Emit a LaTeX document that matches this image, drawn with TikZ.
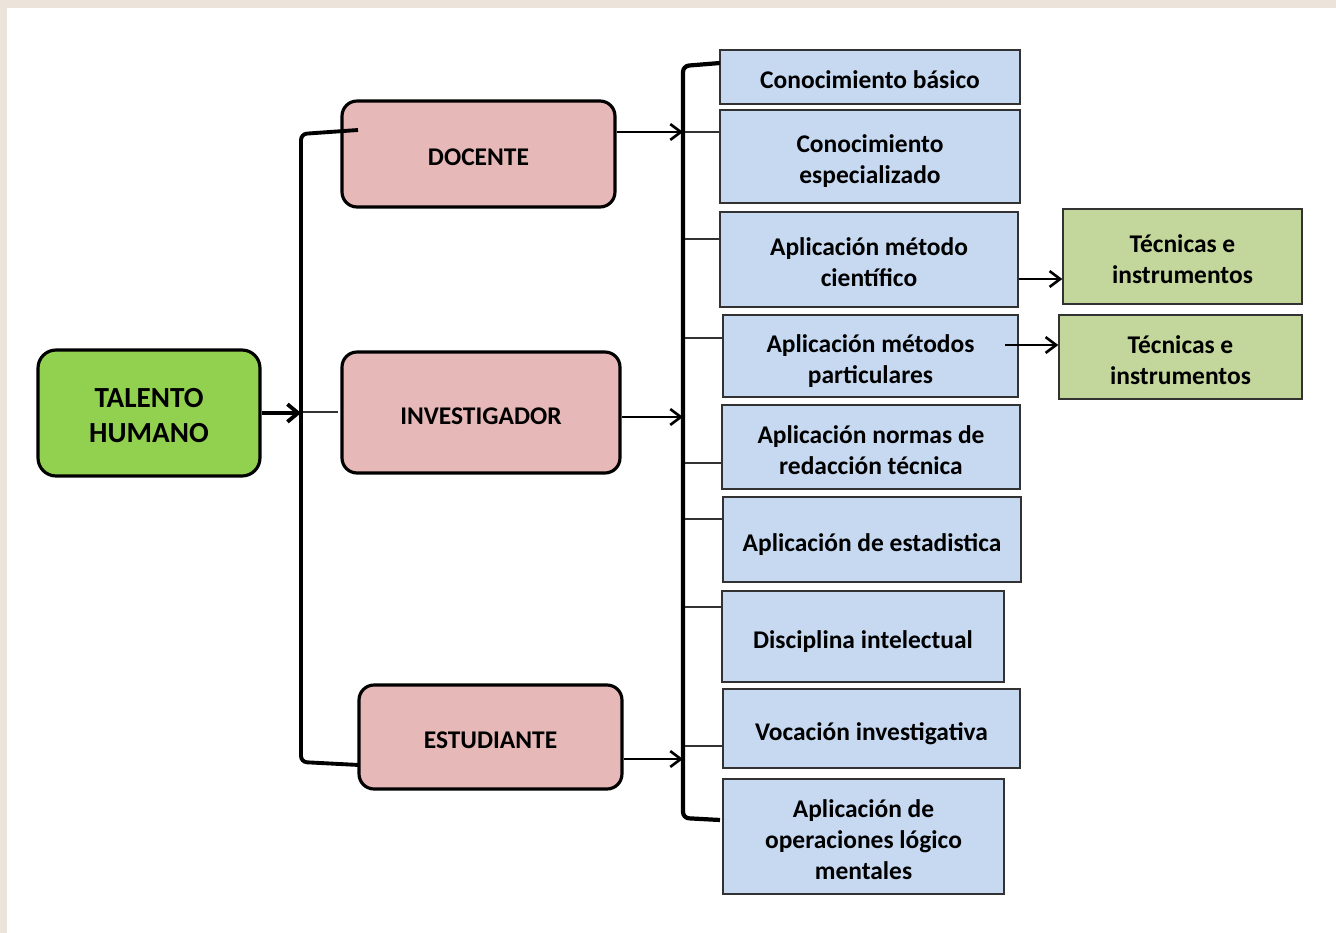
\documentclass[tikz,border=0pt]{standalone}
\usepackage{fontspec}
\setmainfont{Carlito}
\usetikzlibrary{arrows.meta}

\definecolor{fondo}{RGB}{236,228,218}
\definecolor{verde}{RGB}{146,208,80}
\definecolor{rosa}{RGB}{230,184,183}
\definecolor{azul}{RGB}{198,217,241}
\definecolor{oliva}{RGB}{195,214,155}
\definecolor{borde}{RGB}{50,50,50}

% struts so the lines sit like in a word processor text box
\newcommand{\arriba}{\rule{0pt}{17.2pt}}
\newcommand{\abajo}{\rule[-3.6pt]{0pt}{3.6pt}}

\begin{document}
\begin{tikzpicture}[x=0.02cm, y=-0.02cm,
    texto/.style={inner sep=0pt, align=flush center, execute at begin node=\arriba, execute at end node=\abajo},
    raiz/.style={texto, text width=3.6cm, draw, fill=verde, line width=1.8pt, rounded corners=0.36cm,
      font=\fontsize{16.6}{20.4}\selectfont\bfseries},
    actor/.style={texto, text width=4cm, draw, fill=rosa, line width=1.8pt, rounded corners=0.3cm,
      font=\fontsize{14.5}{17.6}\selectfont\bfseries},
    item/.style={texto, text width=5.4cm, draw=borde, fill=azul, line width=0.8pt,
      font=\fontsize{14.5}{17.6}\selectfont\bfseries},
    tecnica/.style={texto, text width=4.2cm, draw=borde, fill=oliva, line width=0.8pt,
      font=\fontsize{14.5}{17.6}\selectfont\bfseries},
    llave/.style={line width=2.2pt, rounded corners=0.12cm},
    flecha/.style={line width=1.5pt, -{Straight Barb[length=6pt,width=9pt]}},
    marca/.style={line width=0.8pt, borde}]

  % fondo
  \fill[fondo] (0,0) rectangle (1336,933);
  \fill[white] (7,8) rectangle (1336,933);
  \useasboundingbox (0,0) rectangle (1336,933);

  % raiz y actores
  \node[raiz, minimum width=4.44cm, minimum height=2.52cm] (th) at (149,413) {TALENTO\\HUMANO};
  \node[actor, minimum width=5.46cm, minimum height=2.12cm] (doc) at (478.5,154) {DOCENTE};
  \node[actor, minimum width=5.56cm, minimum height=2.42cm] (inv) at (481,412.5) {INVESTIGADOR};
  \node[actor, minimum width=5.26cm, minimum height=2.08cm] (est) at (490.5,737) {ESTUDIANTE};

  % capacidades
  \node[item, minimum width=6cm, minimum height=1.08cm] (cb) at (870,77) {Conocimiento básico};
  \node[item, minimum width=6cm, minimum height=1.86cm] (ce) at (870,156.5) {Conocimiento\\especializado};
  \node[item, minimum width=5.96cm, minimum height=1.9cm] (mc) at (869,259.5) {Aplicación método\\científico};
  \node[item, minimum width=5.9cm, minimum height=1.64cm] (mp) at (870.5,356) {Aplicación métodos\\particulares};
  \node[item, minimum width=5.96cm, minimum height=1.68cm] (nr) at (871,447) {Aplicación normas de\\redacción técnica};
  \node[item, minimum width=5.96cm, minimum height=1.7cm] (ae) at (872,539.5) {Aplicación de estadistica};
  \node[item, minimum width=5.64cm, minimum height=1.82cm] (di) at (863,636.5) {Disciplina intelectual};
  \node[item, minimum width=5.94cm, minimum height=1.58cm] (vi) at (871.5,728.5) {Vocación investigativa};
  \node[item, minimum width=5.62cm, minimum height=2.3cm] (ol) at (863.5,836.5) {Aplicación de\\operaciones lógico\\mentales};

  % tecnicas
  \node[tecnica, minimum width=4.78cm, minimum height=1.9cm] (ti1) at (1182.5,256.5) {Técnicas e\\instrumentos};
  \node[tecnica, minimum width=4.86cm, minimum height=1.68cm] (ti2) at (1180.5,357) {Técnicas e\\instrumentos};

  % llave izquierda
  \coordinate (li) at (301,413);
  \draw[llave] (358,130) -- (301,134) -- (301,762) -- (359,765);
  \draw[line width=2.2pt, -{Straight Barb[length=6pt,width=10pt]}] (th.east |- li) -- (li);
  \draw[marca] (303,412) -- (338,412);

  % llave derecha
  \coordinate (rd) at (683,132);
  \coordinate (ri) at (683,417);
  \coordinate (re) at (683,759);
  \draw[llave, line width=2.4pt] (720,63) -- (683,66) -- (683,818) -- (720,820);
  \draw[flecha] (doc.east |- rd) -- (rd);
  \draw[flecha] (inv.east |- ri) -- (ri);
  \draw[flecha] (est.east |- re) -- (re);
  \foreach \n/\y in {ce/132, mc/239, mp/338, nr/463, ae/519, di/607, vi/746}
    \draw[marca] (685,\y) -- (\n.west |- 0,\y);

  % hacia las tecnicas
  \draw[flecha] (mc.east |- 0,279) -- (ti1.west |- 0,279);
  \draw[flecha] (1005,345) -- (ti2.west |- 0,345);
\end{tikzpicture}
\end{document}
